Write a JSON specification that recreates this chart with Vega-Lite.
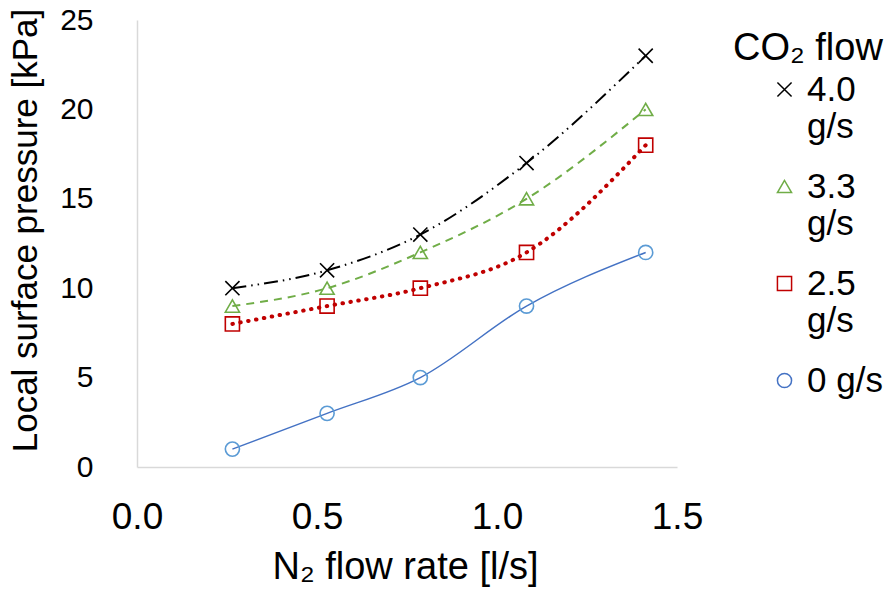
{
  "$schema": "https://vega.github.io/schema/vega-lite/v6.json",
  "width": 540,
  "height": 447,
  "autosize": {"type": "none"},
  "padding": {"left": 137, "top": 20, "right": 219, "bottom": 127},
  "background": "white",
  "config": {
    "font": "Liberation Sans",
    "view": {"stroke": null},
    "axis": {"grid": false, "ticks": false, "tickSize": 0, "domainColor": "#d9d9d9", "domainWidth": 1.5, "labelColor": "#000", "titleColor": "#000", "titleFontWeight": "normal", "labelFlush": false, "labelOverlap": false}
  },
  "data": {"values": [
    {"x": 0.265, "y": 10, "series": "4.0 g/s"},
    {"x": 0.528, "y": 11, "series": "4.0 g/s"},
    {"x": 0.787, "y": 13, "series": "4.0 g/s"},
    {"x": 1.082, "y": 17, "series": "4.0 g/s"},
    {"x": 1.413, "y": 23, "series": "4.0 g/s"},
    {"x": 0.265, "y": 9, "series": "3.3 g/s"},
    {"x": 0.528, "y": 10, "series": "3.3 g/s"},
    {"x": 0.787, "y": 12, "series": "3.3 g/s"},
    {"x": 1.082, "y": 15, "series": "3.3 g/s"},
    {"x": 1.413, "y": 20, "series": "3.3 g/s"},
    {"x": 0.265, "y": 8, "series": "2.5 g/s"},
    {"x": 0.528, "y": 9, "series": "2.5 g/s"},
    {"x": 0.787, "y": 10, "series": "2.5 g/s"},
    {"x": 1.082, "y": 12, "series": "2.5 g/s"},
    {"x": 1.413, "y": 18, "series": "2.5 g/s"},
    {"x": 0.265, "y": 1, "series": "0 g/s"},
    {"x": 0.528, "y": 3, "series": "0 g/s"},
    {"x": 0.787, "y": 5, "series": "0 g/s"},
    {"x": 1.082, "y": 9, "series": "0 g/s"},
    {"x": 1.413, "y": 12, "series": "0 g/s"}
  ]},
  "encoding": {
    "x": {"field": "x", "type": "quantitative", "scale": {"domain": [0, 1.5], "nice": false},
      "axis": {"values": [0, 0.5, 1, 1.5], "format": ".1f", "labelFontSize": 37, "labelBaseline": "alphabetic", "labelPadding": 61,
        "title": "N₂ flow rate [l/s]", "titleFontSize": 38, "titleBaseline": "alphabetic", "titleX": 268, "titleY": 111, "titleAnchor": "middle"}},
    "y": {"field": "y", "type": "quantitative", "scale": {"domain": [0, 25], "nice": false},
      "axis": {"values": [0, 5, 10, 15, 20, 25], "labelFontSize": 30, "labelPadding": 44,
        "title": "Local surface pressure [kPa]", "titleFontSize": 35, "titleBaseline": "alphabetic", "titleAngle": -90, "titleX": -101, "titleY": 210, "titleAnchor": "middle"}},
    "color": {"field": "series", "type": "nominal",
      "scale": {"domain": ["4.0 g/s", "3.3 g/s", "2.5 g/s", "0 g/s"], "range": ["#000000", "#70AD47", "#C00000", "#4472C4"]},
      "legend": {"title": "CO₂ flow", "orient": "none", "legendX": 596, "legendY": 10,
        "titleFontSize": 38, "titleFontWeight": "normal", "titleColor": "#000", "titlePadding": 4,
        "labelFontSize": 35, "labelColor": "#000", "labelLineHeight": 40, "rowPadding": 24,
        "labelExpr": "datum.label == '0 g/s' ? datum.label : split(datum.label, ' ')",
        "symbolOffset": 34, "labelOffset": 5, "symbolSize": 200, "symbolStrokeWidth": 1.5}}
  },
  "layer": [
    {
      "transform": [{"filter": "datum.series == '4.0 g/s'"}],
      "mark": {"type": "line", "interpolate": "monotone", "strokeWidth": 2, "strokeDash": [14, 5, 1.5, 5, 1.5, 5]}
    },
    {
      "transform": [{"filter": "datum.series == '3.3 g/s'"}],
      "mark": {"type": "line", "interpolate": "monotone", "strokeWidth": 2, "strokeDash": [8, 6]}
    },
    {
      "transform": [{"filter": "datum.series == '2.5 g/s'"}],
      "mark": {"type": "line", "interpolate": "monotone", "strokeWidth": 4, "strokeCap": "round", "strokeDash": [0.5, 7.5]}
    },
    {
      "transform": [{"filter": "datum.series == '0 g/s'"}],
      "mark": {"type": "line", "interpolate": "monotone", "strokeWidth": 1.5}
    },
    {
      "mark": {"type": "point", "filled": false, "strokeWidth": 1.6, "opacity": 1},
      "encoding": {
        "stroke": {"field": "series", "type": "nominal", "legend": null,
          "scale": {"domain": ["4.0 g/s", "3.3 g/s", "2.5 g/s", "0 g/s"], "range": ["#000000", "#70AD47", "#C00000", "#5B9BD5"]}},
        "shape": {"field": "series", "type": "nominal",
          "scale": {"domain": ["4.0 g/s", "3.3 g/s", "2.5 g/s", "0 g/s"], "range": ["M-1,-1L1,1M1,-1L-1,1", "triangle-up", "square", "circle"]}},
        "size": {"value": 200}
      }
    }
  ]
}
